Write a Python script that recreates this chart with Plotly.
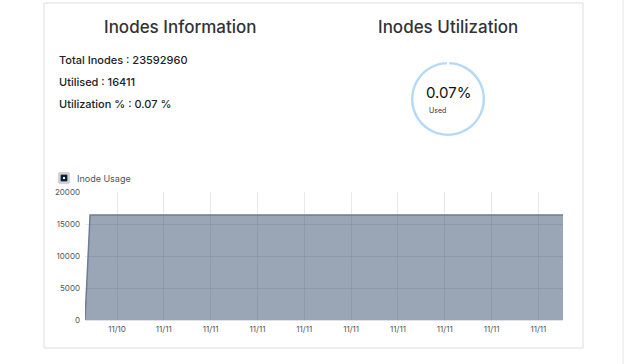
import plotly.graph_objects as go

# ---- data ----
times = ["2023-11-10 20:38", "2023-11-10 20:51", "2023-11-10 22:00", "2023-11-11 00:00",
         "2023-11-11 02:00", "2023-11-11 04:00", "2023-11-11 06:00", "2023-11-11 08:00",
         "2023-11-11 10:00", "2023-11-11 12:00", "2023-11-11 14:00", "2023-11-11 16:00",
         "2023-11-11 17:03"]
inode_usage = [0, 16411, 16411, 16411, 16411, 16411, 16411, 16411, 16411, 16411, 16411, 16411, 16411]
total_inodes = 23592960
utilised = 16411
util_pct = 0.07
pie_labels = ["Used", "Free"]
pie_values = [util_pct, 100 - util_pct]
y_ticks = [0, 5000, 10000, 15000, 20000]

W, H = 625, 364
FONT = "Inter"

def px(x):
    return x / W

def py(y):
    return 1 - y / H

fig = go.Figure()

fig.add_trace(go.Scatter(
    x=times, y=inode_usage, mode="lines", name="Inode Usage",
    line=dict(color="#6e7d94", width=1.5),
    fill="tozeroy", fillcolor="rgba(40,64,100,0.47)",
    showlegend=False, hoverinfo="x+y",
))

fig.add_trace(go.Pie(
    labels=pie_labels, values=pie_values, hole=0.885, sort=False, direction="clockwise",
    rotation=0, marker=dict(colors=["#b3d9f7", "#b3d9f7"], line=dict(color="white", width=2)),
    textinfo="none", showlegend=False,
    domain=dict(x=[px(410), px(486)], y=[py(137), py(61)]),
))

fig.update_layout(
    width=W, height=H, margin=dict(l=0, r=0, t=0, b=0, autoexpand=False),
    paper_bgcolor="white", plot_bgcolor="white",
    font=dict(family=FONT, color="#444"),
    xaxis=dict(
        domain=[px(85), px(563)], type="date", automargin=False,
        range=["2023-11-10 20:38", "2023-11-11 17:03"],
        tick0="2023-11-10 22:00", dtick=7200000, tickformat="%m/%d",
        showgrid=True, gridcolor="rgba(0,0,0,0.09)", gridwidth=1,
        tickfont=dict(size=8, color="#555"), ticks="", ticklabelstandoff=3,
        showline=False, zeroline=False,
    ),
    yaxis=dict(
        domain=[py(320), py(192)], range=[0, 20000], automargin=False,
        tickvals=y_ticks, ticktext=[str(v) for v in y_ticks],
        showgrid=True, gridcolor="rgba(0,0,0,0.09)", gridwidth=1,
        tickfont=dict(size=8, color="#555"), ticks="", ticklabelstandoff=4,
        zeroline=True, zerolinecolor="#dde1e6", zerolinewidth=1, showline=False,
    ),
    shapes=[
        dict(type="rect", xref="paper", yref="paper", x0=px(44), x1=px(583), y0=py(348), y1=py(3),
             line=dict(color="#dedede", width=1), layer="below"),
        dict(type="line", xref="paper", yref="paper", x0=px(623), x1=px(623), y0=0, y1=1,
             line=dict(color="#e6e6e6", width=1)),
        # legend icon
        dict(type="rect", xref="paper", yref="paper", x0=px(59), x1=px(69), y0=py(183), y1=py(173),
             line=dict(color="#aaaaaa", width=1), fillcolor="white"),
        dict(type="rect", xref="paper", yref="paper", x0=px(60.5), x1=px(67.5), y0=py(181.5), y1=py(174.5),
             line=dict(width=0), fillcolor="#0c1f44"),
        dict(type="rect", xref="paper", yref="paper", x0=px(63), x1=px(65), y0=py(179), y1=py(177),
             line=dict(width=0), fillcolor="white"),
    ],
)

ann = [
    dict(text="Inodes Information", x=px(180), y=py(27), size=17, color="#333", xanchor="center", w=500),
    dict(text="Inodes Utilization", x=px(448), y=py(27), size=17, color="#333", xanchor="center", w=500),
    dict(text=f"Total Inodes : {total_inodes}", x=px(57), y=py(60), size=11, color="#222", xanchor="left", w=500),
    dict(text=f"Utilised : {utilised}", x=px(57), y=py(82), size=11, color="#222", xanchor="left", w=500),
    dict(text=f"Utilization % : {util_pct} %", x=px(57), y=py(104), size=11, color="#222", xanchor="left", w=500),
    dict(text=f"{util_pct}%", x=px(448), y=py(92), size=15, color="#111", xanchor="center", w=400),
    dict(text="Used", x=px(427), y=py(110), size=7, color="#333", xanchor="left", w=400),
    dict(text="Inode Usage", x=px(75), y=py(178), size=9, color="#4a5568", xanchor="left", w=400),
]
for a in ann:
    fig.add_annotation(text=a["text"], x=a["x"], y=a["y"], xref="paper", yref="paper",
                       xanchor=a["xanchor"], yanchor="middle", showarrow=False,
                       font=dict(size=a["size"], color=a["color"], family=FONT, weight=a["w"]))

fig.write_html("out.html")
